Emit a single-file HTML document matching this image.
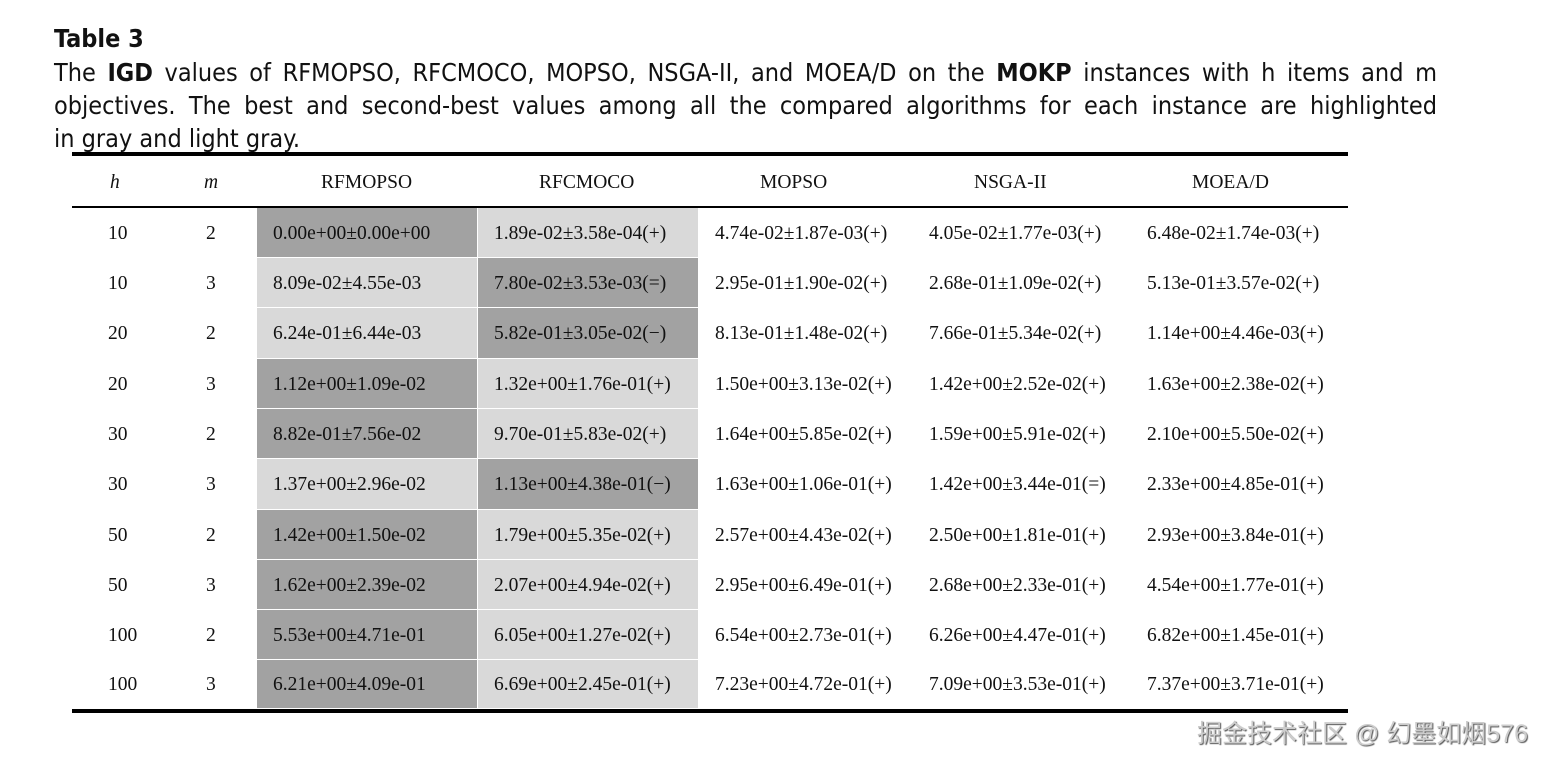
<!DOCTYPE html>
<html><head><meta charset="utf-8"><style>
body{margin:0;width:1548px;height:765px;background:#fff;position:relative;overflow:hidden;font-family:"Liberation Serif",serif;color:#111}
.cap{position:absolute;left:54px;width:1383px;font-family:"DejaVu Sans Condensed","DejaVu Sans",sans-serif;font-size:25px;line-height:33px;white-space:nowrap;color:#111}
.j{text-align:justify;text-align-last:justify;white-space:normal}
.t{position:absolute;font-size:19.5px;white-space:nowrap;line-height:20px}
.ln{position:absolute;left:72px;width:1276px;background:#000}
.c{position:absolute;width:220px}
.d{background:#a2a2a2}.l{background:#d9d9d9}
</style></head><body>
<div class="cap" style="top:22px;font-weight:bold">Table 3</div>
<div class="cap j" style="top:56px">The <b>IGD</b> values of RFMOPSO, RFCMOCO, MOPSO, NSGA-II, and MOEA/D on the <b>MOKP</b> instances with h items and m</div>
<div class="cap j" style="top:89px">objectives. The best and second-best values among all the compared algorithms for each instance are highlighted</div>
<div class="cap" style="top:122px">in gray and light gray.</div>
<div class="ln" style="top:152px;height:4px"></div>
<div class="ln" style="top:206px;height:2px"></div>
<div class="ln" style="top:709px;height:4px"></div>
<div id="cells"></div>
<div class="t" style="left:110px;top:173px;font-style:italic">h</div>
<div class="t" style="left:204px;top:173px;font-style:italic">m</div>
<div class="t" style="left:321px;top:173px">RFMOPSO</div>
<div class="t" style="left:539px;top:173px">RFCMOCO</div>
<div class="t" style="left:760px;top:173px">MOPSO</div>
<div class="t" style="left:974px;top:173px">NSGA-II</div>
<div class="t" style="left:1192px;top:173px">MOEA/D</div>
<script>
var rows=[
[10,2,"0.00e+00±0.00e+00","1.89e-02±3.58e-04(+)","4.74e-02±1.87e-03(+)","4.05e-02±1.77e-03(+)","6.48e-02±1.74e-03(+)","dl"],
[10,3,"8.09e-02±4.55e-03","7.80e-02±3.53e-03(=)","2.95e-01±1.90e-02(+)","2.68e-01±1.09e-02(+)","5.13e-01±3.57e-02(+)","ld"],
[20,2,"6.24e-01±6.44e-03","5.82e-01±3.05e-02(−)","8.13e-01±1.48e-02(+)","7.66e-01±5.34e-02(+)","1.14e+00±4.46e-03(+)","ld"],
[20,3,"1.12e+00±1.09e-02","1.32e+00±1.76e-01(+)","1.50e+00±3.13e-02(+)","1.42e+00±2.52e-02(+)","1.63e+00±2.38e-02(+)","dl"],
[30,2,"8.82e-01±7.56e-02","9.70e-01±5.83e-02(+)","1.64e+00±5.85e-02(+)","1.59e+00±5.91e-02(+)","2.10e+00±5.50e-02(+)","dl"],
[30,3,"1.37e+00±2.96e-02","1.13e+00±4.38e-01(−)","1.63e+00±1.06e-01(+)","1.42e+00±3.44e-01(=)","2.33e+00±4.85e-01(+)","ld"],
[50,2,"1.42e+00±1.50e-02","1.79e+00±5.35e-02(+)","2.57e+00±4.43e-02(+)","2.50e+00±1.81e-01(+)","2.93e+00±3.84e-01(+)","dl"],
[50,3,"1.62e+00±2.39e-02","2.07e+00±4.94e-02(+)","2.95e+00±6.49e-01(+)","2.68e+00±2.33e-01(+)","4.54e+00±1.77e-01(+)","dl"],
[100,2,"5.53e+00±4.71e-01","6.05e+00±1.27e-02(+)","6.54e+00±2.73e-01(+)","6.26e+00±4.47e-01(+)","6.82e+00±1.45e-01(+)","dl"],
[100,3,"6.21e+00±4.09e-01","6.69e+00±2.45e-01(+)","7.23e+00±4.72e-01(+)","7.09e+00±3.53e-01(+)","7.37e+00±3.71e-01(+)","dl"]];
var cy=[234,284,334,385,435,485,536,586,636,685],h="";
var bounds=[208,258,308,359,409,459,510,560,610,660,709];
rows.forEach(function(r,i){
 var top=bounds[i],ht=bounds[i+1]-top-1,y=cy[i]-10;
 h+='<div class="c '+r[7][0]+'" style="left:257px;top:'+top+'px;height:'+ht+'px"></div>';
 h+='<div class="c '+r[7][1]+'" style="left:478px;top:'+top+'px;height:'+ht+'px"></div>';
 h+='<div class="t" style="left:108px;top:'+y+'px">'+r[0]+'</div>';
 h+='<div class="t" style="left:206px;top:'+y+'px">'+r[1]+'</div>';
 [273,494,715,929,1147].forEach(function(x,k){h+='<div class="t" style="left:'+x+'px;top:'+y+'px">'+r[2+k]+'</div>';});
});
document.getElementById("cells").innerHTML=h;
</script>
<div style="position:absolute;left:1197px;top:714px;font-family:'Liberation Sans','Noto Sans CJK SC',sans-serif;font-size:25px;color:#ccc;text-shadow:1px 1px 1px #555">掘金技术社区 @ 幻墨如烟576</div>
</body></html>
